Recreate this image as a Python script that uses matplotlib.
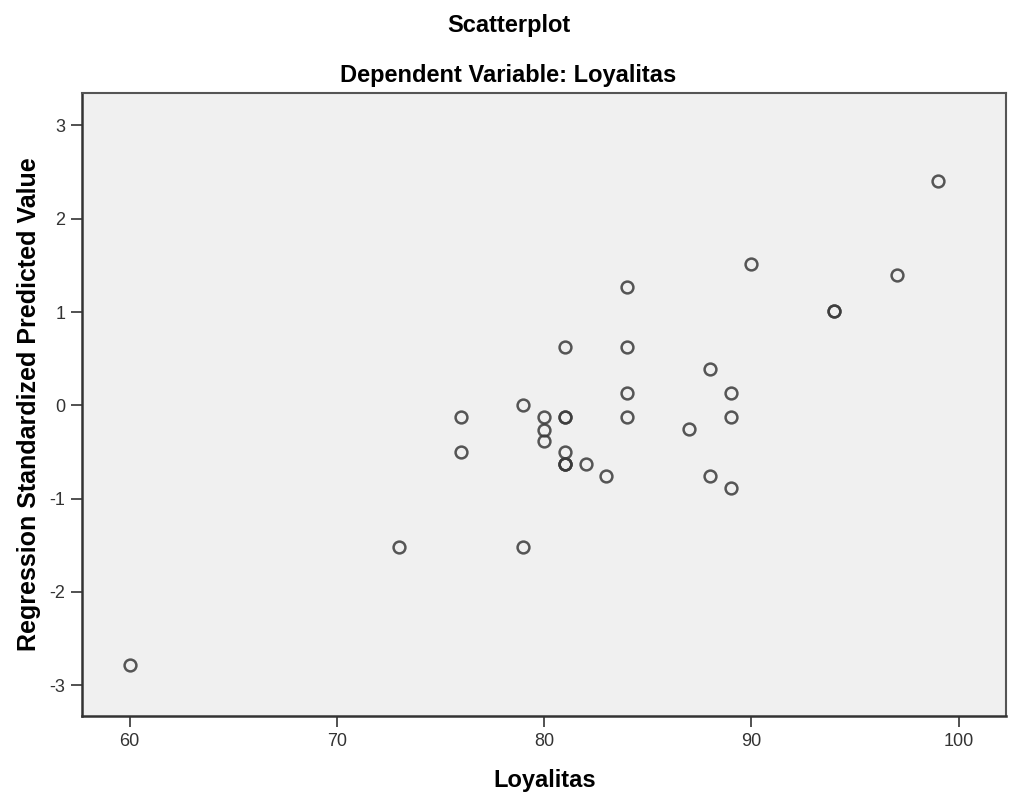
import matplotlib.pyplot as plt

# Loyalitas vs. regression standardized predicted value
loyalitas = [60, 73, 79, 76, 76, 79, 80, 80, 80, 81, 81, 81, 81, 81, 81, 81,
             82, 83, 84, 84, 84, 84, 87, 88, 88, 89, 89, 89, 90, 94, 94, 97, 99]
pred_std = [-2.78, -1.52, -1.52, -0.13, -0.50, 0.00, -0.13, -0.26, -0.38,
            0.63, -0.13, -0.13, -0.50, -0.63, -0.63, -0.63,
            -0.63, -0.76, 1.27, 0.63, 0.13, -0.13, -0.25, 0.39, -0.76,
            0.13, -0.13, -0.89, 1.52, 1.01, 1.01, 1.40, 2.40]

x_ticks = [60, 70, 80, 90, 100]
y_ticks = [-3, -2, -1, 0, 1, 2, 3]

plt.rcParams['font.family'] = ['Liberation Sans', 'DejaVu Sans']
plt.rcParams['axes.unicode_minus'] = False

fig = plt.figure(figsize=(10.17, 8), dpi=100)
ax = fig.add_axes([0.0806, 0.105, 0.909, 0.779])
ax.set_facecolor('#f0f0f0')

ax.plot(loyalitas, pred_std, linestyle='none', marker='o', markersize=8.5,
        markerfacecolor='none', markeredgecolor='#3a3a3a', markeredgewidth=1.8,
        alpha=0.85)

ax.set_xlim(57.7, 102.3)
ax.set_ylim(-3.33, 3.35)
ax.set_xticks(x_ticks)
ax.set_yticks(y_ticks)
ax.tick_params(axis='both', labelsize=13, length=8, width=1.2,
               color='#333333', labelcolor='#333333', pad=4)

for side in ['top', 'right']:
    ax.spines[side].set_color('#555555')
    ax.spines[side].set_linewidth(1.5)
for side in ['left', 'bottom']:
    ax.spines[side].set_color('#333333')
    ax.spines[side].set_linewidth(1.8)

ax.set_xlabel('Loyalitas', fontsize=17, fontweight='bold', labelpad=14)
ax.set_ylabel('Regression Standardized Predicted Value', fontsize=18,
              fontweight='bold', labelpad=6)

fig.text(0.5, 0.968, 'Scatterplot', ha='center', va='center',
         fontsize=17, fontweight='bold')
fig.text(0.5, 0.906, 'Dependent Variable: Loyalitas', ha='center',
         va='center', fontsize=17, fontweight='bold')

fig.savefig('out.png', dpi=100)
